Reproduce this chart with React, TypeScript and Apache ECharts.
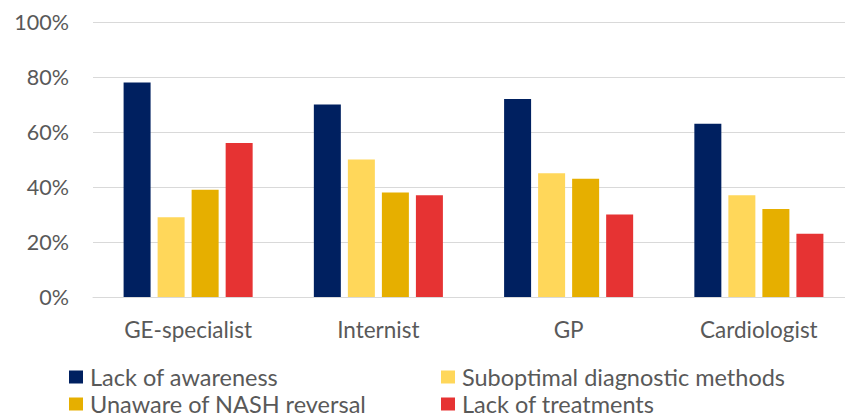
import React, { useEffect, useRef } from "react";
import * as echarts from "echarts";

const categories = ["GE-specialist", "Internist", "GP", "Cardiologist"];
const seriesNames = [
  "Lack of awareness",
  "Suboptimal diagnostic methods",
  "Unaware of NASH reversal",
  "Lack of treatments",
];
const lackOfAwareness = [78, 70, 72, 63];
const suboptimalDiagnostic = [29, 50, 45, 37];
const unawareNashReversal = [39, 38, 43, 32];
const lackOfTreatments = [56, 37, 30, 23];
const colors = ["#002060", "#FFD75A", "#E6AF00", "#E63333"];

const FONT = "Lato";
const TEXT = "#595959";

export default function App() {
  const ref = useRef<HTMLDivElement>(null);
  useEffect(() => {
    if (!ref.current) return;
    const chart = echarts.init(ref.current, undefined, { renderer: "svg" });
    const values = [lackOfAwareness, suboptimalDiagnostic, unawareNashReversal, lackOfTreatments];
    const legendPos = [
      { left: 69, top: 365 },
      { left: 441, top: 365 },
      { left: 69, top: 392 },
      { left: 441, top: 392 },
    ];
    const legends = seriesNames.map((name, i) => ({
      orient: "horizontal",
      left: legendPos[i].left,
      top: legendPos[i].top,
      padding: 0,
      itemWidth: 14,
      itemHeight: 13,
      itemGap: 0,
      icon: "rect",
      data: [name],
      textStyle: { color: TEXT, fontSize: 23.5, fontFamily: FONT, padding: [0, 0, 0, 2] },
    }));
    chart.setOption({
      animation: false,
      color: colors,
      textStyle: { fontFamily: FONT },
      grid: {
        left: 93,
        width: 761,
        top: 22,
        bottom: 121,
        containLabel: false,
        outerBoundsMode: "none",
      },
      legend: legends,
      xAxis: {
        type: "category",
        data: categories,
        axisLine: { lineStyle: { color: "#D9D9D9", width: 1 } },
        axisTick: { show: false },
        axisLabel: { color: TEXT, fontSize: 22.5, fontFamily: FONT, margin: 21 },
      },
      yAxis: {
        type: "value",
        min: 0,
        max: 100,
        interval: 20,
        axisLine: { show: false },
        axisTick: { show: false },
        splitLine: { lineStyle: { color: "#D9D9D9", width: 1 } },
        axisLabel: {
          color: TEXT,
          fontSize: 21.5,
          fontFamily: FONT,
          margin: 24,
          formatter: (v: number) => `${v}%`,
        },
      },
      series: seriesNames.map((name, i) => ({
        name,
        type: "bar",
        data: values[i],
        barWidth: 27,
        barGap: "26%",
        itemStyle: { color: colors[i] },
      })),
    });
    return () => chart.dispose();
  }, []);
  return <div ref={ref} style={{ width: 845, height: 418, position: "absolute", left: 0, top: 0 }} />;
}
